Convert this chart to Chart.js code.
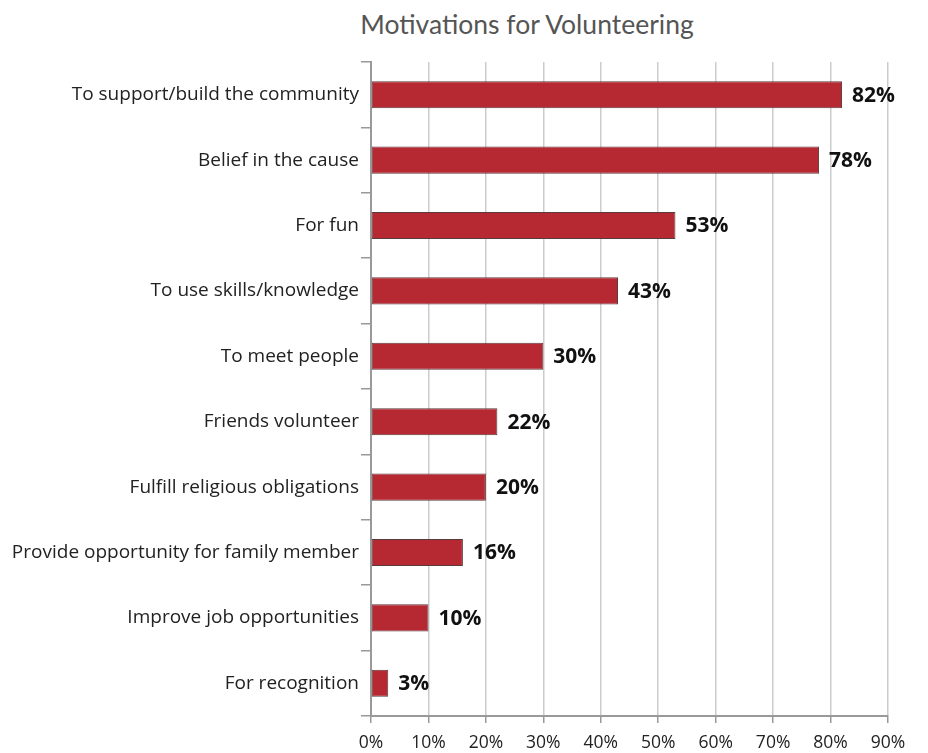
<!DOCTYPE html>
<html><head><meta charset="utf-8">
<script src="https://cdn.jsdelivr.net/npm/chart.js@4"></script>
<style>
html,body{margin:0;padding:0;background:#fff;}
#wrap{position:relative;width:928px;height:753px;overflow:hidden;}
#title{position:absolute;left:277px;width:500px;top:6px;text-align:center;font-family:Lato,sans-serif;font-weight:400;font-size:26.5px;line-height:36px;color:#555;}
canvas{position:absolute;left:0;top:0;}
</style>
</head><body>
<div id="wrap">
<div id="title">Motivations for Volunteering</div>
<canvas id="c" width="928" height="753" style="width:928px;height:753px"></canvas>
</div>
<script>
const categories = [
  "To support/build the community",
  "Belief in the cause",
  "For fun",
  "To use skills/knowledge",
  "To meet people",
  "Friends volunteer",
  "Fulfill religious obligations",
  "Provide opportunity for family member",
  "Improve job opportunities",
  "For recognition"
];
const values = [82, 78, 53, 43, 30, 22, 20, 16, 10, 3];
const xTickValues = [0, 10, 20, 30, 40, 50, 60, 70, 80, 90];

const valueLabels = {
  id: 'valueLabels',
  afterDatasetsDraw(chart) {
    const ctx = chart.ctx;
    const meta = chart.getDatasetMeta(0);
    ctx.save();
    ctx.font = 'bold 21px "Open Sans", sans-serif';
    ctx.fillStyle = '#111';
    ctx.textAlign = 'left';
    ctx.textBaseline = 'middle';
    meta.data.forEach((bar, i) => {
      ctx.fillText(values[i] + '%', bar.x + 10, bar.y + 1);
    });
    ctx.restore();
  }
};

new Chart(document.getElementById('c'), {
  type: 'bar',
  data: {
    labels: categories,
    datasets: [{
      data: values,
      backgroundColor: '#b72932',
      borderColor: '#5a3b3d',
      borderWidth: 1,
      borderSkipped: false,
      barPercentage: 0.415,
      categoryPercentage: 1
    }]
  },
  options: {
    indexAxis: 'y',
    responsive: false,
    animation: false,
    layout: { padding: { top: 62, right: 40, bottom: 0, left: 0 } },
    plugins: { legend: { display: false }, tooltip: { enabled: false }, title: { display: false } },
    scales: {
      x: {
        min: 0, max: 90,
        afterBuildTicks: (s) => { s.ticks = xTickValues.map(v => ({ value: v })); },
        afterFit: (s) => { s.height = 37; },
        ticks: { callback: (v) => v + '%', font: { family: '"Open Sans", sans-serif', size: 17.5 }, color: '#222', padding: 10, maxRotation: 0 },
        grid: { color: '#cccccc', lineWidth: 1.5, tickLength: 7, tickColor: '#999' },
        border: { color: '#999', width: 2 }
      },
      y: {
        afterFit: (s) => { s.width = 371; },
        offset: true,
        ticks: { font: { family: '"Open Sans", sans-serif', size: 19 }, color: '#222', padding: 2 },
        grid: { offset: true, drawOnChartArea: false, tickLength: 10, color: '#999', lineWidth: 1.5 },
        border: { color: '#999', width: 2 }
      }
    }
  },
  plugins: [valueLabels]
});
</script>
</body></html>
